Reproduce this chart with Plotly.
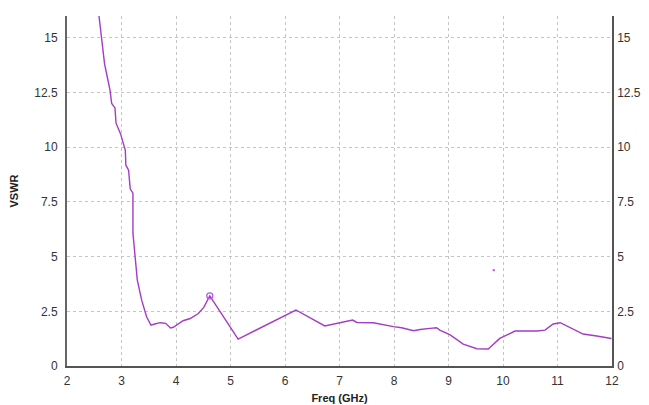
import plotly.graph_objects as go

freq = [2.587, 2.64, 2.69, 2.74, 2.79, 2.82, 2.88, 2.90, 2.985, 3.03, 3.07, 3.08, 3.13, 3.16, 3.21,
        3.21, 3.25, 3.29, 3.33, 3.37, 3.46, 3.54, 3.61, 3.71, 3.81, 3.85, 3.90, 3.95, 4.04, 4.13,
        4.26, 4.41, 4.51, 4.62, 5.14, 6.20, 6.73, 7.01, 7.24, 7.32, 7.62, 7.99, 8.14, 8.36, 8.48,
        8.66, 8.78, 8.84, 9.03, 9.27, 9.52, 9.73, 9.94, 10.22, 10.62, 10.77, 10.92, 11.05, 11.23,
        11.47, 11.72, 11.99]
vswr = [16.0, 14.96, 13.8, 13.2, 12.6, 12.0, 11.8, 11.1, 10.6, 10.2, 9.86, 9.18, 8.95, 8.1, 7.9,
        6.06, 4.84, 3.93, 3.47, 3.01, 2.25, 1.87, 1.92, 1.98, 1.95, 1.84, 1.74, 1.77, 1.92, 2.07,
        2.17, 2.40, 2.68, 3.21, 1.23, 2.56, 1.83, 1.98, 2.10, 1.99, 1.98, 1.80, 1.75, 1.61, 1.67,
        1.72, 1.75, 1.64, 1.42, 1.00, 0.79, 0.78, 1.26, 1.60, 1.60, 1.64, 1.92, 1.98, 1.77,
        1.46, 1.37, 1.26]

marker_freq = [4.62]
marker_vswr = [3.21]
stray_freq = [9.83]
stray_vswr = [4.38]

y_ticks = [0, 2.5, 5, 7.5, 10, 12.5, 15]
y_labels = ["0", "2.5", "5", "7.5", "10", "12.5", "15"]
x_ticks = [2, 3, 4, 5, 6, 7, 8, 9, 10, 11, 12]

line_color = "#A43CC4"
font_fam = "Liberation Sans, Arial, sans-serif"

fig = go.Figure()
fig.add_trace(go.Scatter(x=freq, y=vswr, mode="lines",
                         line=dict(color=line_color, width=1.4), showlegend=False))
fig.add_trace(go.Scatter(x=marker_freq, y=marker_vswr, mode="markers",
                         marker=dict(symbol="circle-open", size=6, color="#C050E8", line=dict(width=1.3)),
                         showlegend=False))
fig.add_trace(go.Scatter(x=stray_freq, y=stray_vswr, mode="markers",
                         marker=dict(symbol="square", size=2, color="#C040E0"), showlegend=False))
fig.add_trace(go.Scatter(x=[2], y=[0], yaxis="y2", mode="markers",
                         marker=dict(opacity=0), showlegend=False, hoverinfo="skip"))

grid = dict(showgrid=True, gridcolor="#C4C4C4", griddash="3px,3px", gridwidth=1)

fig.update_layout(
    width=641, height=397,
    margin=dict(l=59, r=37, t=8, b=39),
    paper_bgcolor="white", plot_bgcolor="white",
    font=dict(family=font_fam, size=12, color="#333333"),
    xaxis=dict(range=[2, 12], tickvals=x_ticks, ticks="", zeroline=False, automargin=False,
               showline=True, linecolor="#555555", linewidth=1.5, ticklabelstandoff=3,
               title=dict(text="<b>Freq (GHz)</b>", font=dict(size=11, color="#222222"), standoff=7),
               tickfont=dict(size=12, color="#333333"), **grid),
    yaxis=dict(range=[0, 16], tickvals=y_ticks, ticktext=y_labels, ticks="", zeroline=False,
               automargin=False, ticklabelstandoff=5,
               showline=True, linecolor="#666666", linewidth=2,
               title=dict(text="<b>VSWR</b>", font=dict(size=11, color="#222222"), standoff=14),
               tickfont=dict(size=12, color="#333333"), **grid),
    yaxis2=dict(range=[0, 16], tickvals=y_ticks, ticktext=y_labels, ticks="", zeroline=False,
                overlaying="y", side="right", showgrid=False, automargin=False,
                ticklabelstandoff=1,
                showline=True, linecolor="#555555", linewidth=1.5,
                tickfont=dict(size=12, color="#333333")),
)

fig.write_html("out.html")
